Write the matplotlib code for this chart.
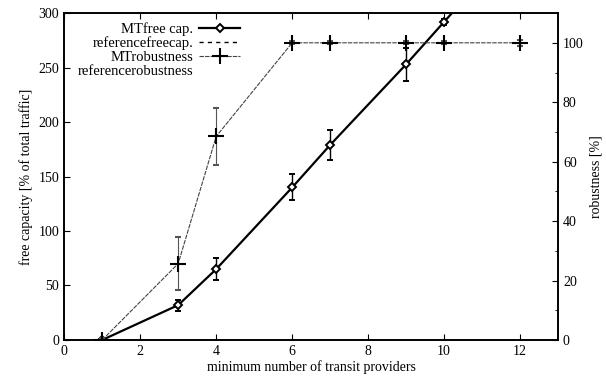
import numpy as np
import matplotlib.pyplot as plt
from matplotlib.ticker import MultipleLocator

plt.rcParams['font.family'] = ['Liberation Serif', 'DejaVu Serif']

# measurements per minimum number of transit providers
providers = [1, 3, 4, 6, 7, 9, 10, 12]
mt_freecap = [0, 32, 65, 140, 179, 253, 292, 370]
mt_freecap_err = [1, 5, 10, 12, 14, 15, 3, 3]
ref_freecap = [0, 0, 0, 0, 0, 0, 0, 0]
mt_robust = [0, 25.7, 68.5, 100, 100, 100, 100, 100]
mt_robust_err = [0.5, 9, 9.5, 0.5, 0.5, 0.5, 0.5, 1]

fig = plt.figure(figsize=(6.06, 3.85), dpi=100)
ax = fig.add_axes([0.106, 0.117, 0.815, 0.849])
ax2 = ax.twinx()

h_mt = ax.errorbar(providers, mt_freecap, yerr=mt_freecap_err, color='black', lw=1.6,
                   marker='D', ms=4.5, mfc='white', mec='black', mew=1.4,
                   elinewidth=1.0, capsize=2, label='MTfree cap.')
h_ref, = ax.plot(providers + [13], ref_freecap + [0], color='black', lw=1.0,
                 ls=(0, (3, 3)), label='referencefreecap.')

h_rob = ax2.errorbar(providers, mt_robust, yerr=mt_robust_err, color='#444444', lw=0.8,
                     ls=(0, (4, 1)), marker='+', ms=11, mew=1.5, mec='black',
                     elinewidth=0.8, ecolor='#555555', capsize=2, label='MTrobustness')
h_refrob, = ax2.plot([], [], ls='None', label='referencerobustness')

ax.set_xlim(0, 13)
ax.set_ylim(0, 300)
ax2.set_ylim(0, 110)
ax.xaxis.set_major_locator(MultipleLocator(2))
ax.yaxis.set_major_locator(MultipleLocator(50))
ax2.yaxis.set_major_locator(MultipleLocator(20))
ax2.yaxis.set_minor_locator(MultipleLocator(10))
ax.tick_params(direction='in', top=True, labelsize=10, length=4)
ax2.tick_params(direction='in', labelsize=10, length=4)
ax2.tick_params(which='minor', direction='in', length=2)
ax2.set_yticks([0, 20, 40, 60, 80, 100])

ax.set_xlabel('minimum number of transit providers', fontsize=10, labelpad=2)
ax.set_ylabel('free capacity [% of total traffic]', fontsize=10, labelpad=4)
ax2.set_ylabel('robustness [%]', fontsize=10, labelpad=4)

for a in (ax, ax2):
    for s in a.spines.values():
        s.set_linewidth(1.2)

# legend samples without the error bar whiskers
handles = [h_mt[0], h_ref, h_rob[0], h_refrob]
labels = ['MTfree cap.', 'referencefreecap.', 'MTrobustness', 'referencerobustness']
ax2.legend(handles, labels, loc='upper left',
           bbox_to_anchor=(0.01, 1.0), markerfirst=False, frameon=False,
           fontsize=10.5, handlelength=2.8, labelspacing=0.05,
           borderaxespad=0.2, handletextpad=0.4)

fig.savefig('out.png', dpi=100)
